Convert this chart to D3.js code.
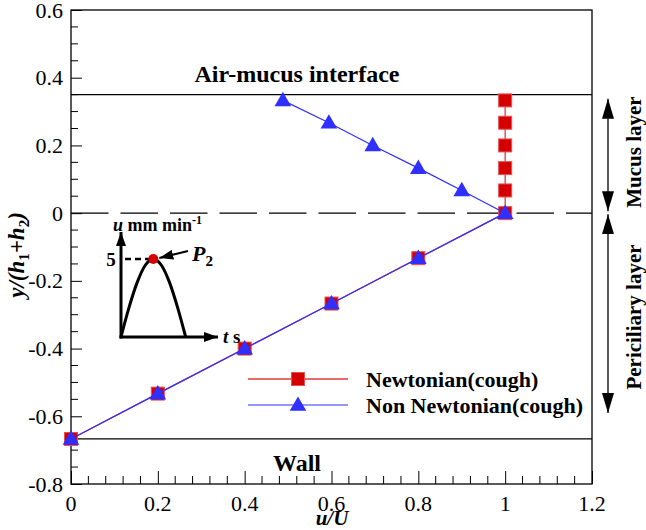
<!DOCTYPE html>
<html><head><meta charset="utf-8">
<script src="https://cdn.jsdelivr.net/npm/d3@7"></script>
</head><body style="margin:0"><svg id="c" width="646" height="530"></svg>
<script>
// ---- data ----
const xTicks = [0, 0.2, 0.4, 0.6, 0.8, 1, 1.2];
const xTickLabels = ["0", "0.2", "0.4", "0.6", "0.8", "1", "1.2"];
const yTicks = [0.6, 0.4, 0.2, 0, -0.2, -0.4, -0.6, -0.8];
const yTickLabels = ["0.6", "0.4", "0.2", "0", "-0.2", "-0.4", "-0.6", "-0.8"];
const newtonianX = [0, 0.2, 0.4, 0.6, 0.8, 1, 1, 1, 1, 1, 1];
const newtonianY = [-0.667, -0.533, -0.4, -0.267, -0.133, 0, 0.067, 0.133, 0.2, 0.267, 0.333];
const nonNewtonianX = [0, 0.2, 0.4, 0.6, 0.8, 1, 0.9, 0.8, 0.695, 0.594, 0.488];
const nonNewtonianY = [-0.667, -0.533, -0.4, -0.267, -0.133, 0, 0.067, 0.133, 0.2, 0.267, 0.333];
const interfaceY = 0.35, wallY = -0.667, midY = 0;
const seriesNames = ["Newtonian(cough)", "Non Newtonian(cough)"];
// inset schematic (t normalised, u in mm/min)
const insetT = [0, 0.083, 0.167, 0.25, 0.333, 0.417, 0.5, 0.583, 0.667];
const insetU = [0, 1.9, 3.5, 4.6, 5, 4.6, 3.5, 1.9, 0];

// ---- layout ----
const FONT = "Liberation Serif";
const svg = d3.select("#c");
const L = 71, R = 592, T = 10, B = 484;
const x = d3.scaleLinear().domain([0, 1.2]).range([L, R]);
const y = d3.scaleLinear().domain([-0.8, 0.6]).range([B, T]);
const red = "#d40000", redLine = "#e03a3a", blue = "#2f2fff";

function label(px, py, txt, size, opts = {}) {
  const t = svg.append("text").attr("x", px).attr("y", py).attr("font-family", FONT)
    .attr("font-size", size).attr("font-weight", opts.weight || "bold").attr("fill", "#000");
  if (opts.anchor) t.attr("text-anchor", opts.anchor);
  if (opts.italic) t.attr("font-style", "italic");
  if (opts.transform) t.attr("transform", opts.transform);
  if (txt) t.text(txt);
  return t;
}

const defs = svg.append("defs");
defs.append("marker").attr("id","ah").attr("viewBox","0 0 20 12").attr("refX",20).attr("refY",6)
  .attr("markerWidth",20).attr("markerHeight",12).attr("markerUnits","userSpaceOnUse").attr("orient","auto-start-reverse")
  .append("path").attr("d","M0,0L20,6L0,12Z").attr("fill","#000");
defs.append("marker").attr("id","ah2").attr("viewBox","0 0 14 10").attr("refX",14).attr("refY",5)
  .attr("markerWidth",14).attr("markerHeight",10).attr("markerUnits","userSpaceOnUse").attr("orient","auto-start-reverse")
  .append("path").attr("d","M0,0L14,5L0,10Z").attr("fill","#000");

// frame
svg.append("rect").attr("x",L).attr("y",T).attr("width",R-L).attr("height",B-T)
  .attr("fill","none").attr("stroke","#000").attr("stroke-width",1.3);

// axes: ticks from d3 axes (inward), labels as serif text
const xAxis = d3.axisBottom(x).tickValues(xTicks).tickFormat("").tickSize(-13);
svg.append("g").attr("transform",`translate(0,${B})`).call(xAxis).call(g=>g.select(".domain").remove());
xTicks.forEach((v,i)=>label(x(v), 511, xTickLabels[i], 22, {anchor:"middle", weight:"normal"}));
const xMinor = d3.range(0, 1.2001, 0.04).filter(v => Math.abs(v*5 - Math.round(v*5)) > 1e-6);
svg.append("g").selectAll("line").data(xMinor).join("line")
  .attr("x1",d=>x(d)).attr("x2",d=>x(d)).attr("y1",B).attr("y2",B-8).attr("stroke","#000");
const yAxis = d3.axisLeft(y).tickValues(yTicks).tickFormat("").tickSize(-11);
svg.append("g").attr("transform",`translate(${L},0)`).call(yAxis).call(g=>g.select(".domain").remove());
yTicks.forEach((v,i)=>label(63, y(v)+7.5, yTickLabels[i], 22, {anchor:"end", weight:"normal"}));
const yMinor = d3.range(-0.8, 0.6001, 0.05).filter(v => Math.abs(v*5 - Math.round(v*5)) > 1e-6);
svg.append("g").selectAll("line").data(yMinor).join("line")
  .attr("x1",L).attr("x2",L+7).attr("y1",d=>y(d)).attr("y2",d=>y(d)).attr("stroke","#000");
svg.selectAll(".tick line").attr("stroke","#000");

// reference lines
svg.append("line").attr("x1",L).attr("x2",R).attr("y1",y(interfaceY)).attr("y2",y(interfaceY)).attr("stroke","#000").attr("stroke-width",1.3);
svg.append("line").attr("x1",L).attr("x2",R).attr("y1",y(wallY)).attr("y2",y(wallY)).attr("stroke","#000").attr("stroke-width",1.3);
svg.append("line").attr("x1",L).attr("x2",R).attr("y1",y(midY)).attr("y2",y(midY)).attr("stroke","#000").attr("stroke-width",1.3)
  .attr("stroke-dasharray","37.5,12");

// series
const nData = newtonianX.map((v,i)=>[v,newtonianY[i]]);
const nnData = nonNewtonianX.map((v,i)=>[v,nonNewtonianY[i]]);
const line = d3.line().x(d=>x(d[0])).y(d=>y(d[1]));
svg.append("path").datum(nData).attr("d",line).attr("fill","none").attr("stroke",redLine).attr("stroke-width",1.3);
svg.append("g").selectAll("rect").data(nData).join("rect")
  .attr("x",d=>x(d[0])-6.5).attr("y",d=>y(d[1])-6.5).attr("width",13).attr("height",13)
  .attr("fill",red).attr("stroke","#e85050").attr("stroke-width",1);
svg.append("path").datum(nnData).attr("d",line).attr("fill","none").attr("stroke",blue).attr("stroke-width",1.2);
const tri = d3.symbol().type(d3.symbolTriangle).size(120);
svg.append("g").selectAll("path").data(nnData).join("path")
  .attr("transform",d=>`translate(${x(d[0])},${y(d[1])+1})`).attr("d",tri).attr("fill",blue);

// legend
const legY = [379, 405];
svg.append("line").attr("x1",248).attr("x2",348).attr("y1",legY[0]).attr("y2",legY[0]).attr("stroke",redLine).attr("stroke-width",1.3);
svg.append("rect").attr("x",298-6.5).attr("y",legY[0]-6.5).attr("width",13).attr("height",13).attr("fill",red).attr("stroke","#e85050");
svg.append("line").attr("x1",248).attr("x2",348).attr("y1",legY[1]).attr("y2",legY[1]).attr("stroke",blue).attr("stroke-width",1.2);
svg.append("path").attr("transform",`translate(298,${legY[1]+1})`).attr("d",tri).attr("fill",blue);
seriesNames.forEach((s,i)=>label(366, legY[i]+8, s, 22));

// annotations
label(297, y(interfaceY)-13, "Air-mucus interface", 24, {anchor:"middle"});
label(297, y(wallY)+32, "Wall", 24, {anchor:"middle"});

// right double arrows
svg.append("line").attr("x1",608).attr("x2",608).attr("y1",y(interfaceY)+4).attr("y2",y(midY)-2).attr("stroke","#000").attr("stroke-width",1.3)
  .attr("marker-start","url(#ah)").attr("marker-end","url(#ah)");
svg.append("line").attr("x1",608).attr("x2",608).attr("y1",y(midY)+1).attr("y2",413).attr("stroke","#000").attr("stroke-width",1.3)
  .attr("marker-start","url(#ah)").attr("marker-end","url(#ah)");
label(0, 0, "Mucus layer", 21, {anchor:"middle", transform:"translate(641,152) rotate(-90)"});
label(0, 0, "Periciliary layer", 21, {anchor:"middle", transform:"translate(641,317) rotate(-90)"});

// axis titles
label(332, 525, "u/U", 21, {anchor:"middle", italic:true});
const yt = label(0, 0, null, 23, {anchor:"middle", italic:true, transform:"translate(24,255) rotate(-90)"});
yt.append("tspan").text("y/(h");
yt.append("tspan").attr("font-size",15).attr("font-style","normal").attr("dy",5).text("1");
yt.append("tspan").attr("dy",-5).text("+h");
yt.append("tspan").attr("font-size",15).attr("font-style","normal").attr("dy",5).text("2");
yt.append("tspan").attr("dy",-5).text(")");

// ---- inset ----
const xi = d3.scaleLinear().domain([0, 1]).range([121, 218]);
const yi = d3.scaleLinear().domain([0, 5]).range([337, 259]);
svg.append("line").attr("x1",xi(0)).attr("x2",xi(0)).attr("y1",yi(0)+1.5).attr("y2",232).attr("stroke","#000").attr("stroke-width",3).attr("marker-end","url(#ah2)");
svg.append("line").attr("x1",xi(0)-1.5).attr("x2",xi(1)).attr("y1",yi(0)).attr("y2",yi(0)).attr("stroke","#000").attr("stroke-width",3).attr("marker-end","url(#ah2)");
svg.append("path").datum(insetT.map((t,i)=>[t,insetU[i]]))
  .attr("d",d3.line().x(d=>xi(d[0])).y(d=>yi(d[1])).curve(d3.curveMonotoneX))
  .attr("fill","none").attr("stroke","#000").attr("stroke-width",3);
svg.append("line").attr("x1",xi(0)+4).attr("x2",xi(0.333)).attr("y1",yi(5)).attr("y2",yi(5)).attr("stroke","#000").attr("stroke-width",2.5).attr("stroke-dasharray","6,4");
svg.append("circle").attr("cx",xi(0.333)).attr("cy",yi(5)).attr("r",5).attr("fill","#d40000");
label(111, yi(5)+7, "5", 19, {anchor:"middle"});
const ul = label(113, 231, null, 18);
ul.append("tspan").attr("font-style","italic").text("u");
ul.append("tspan").text(" mm min");
ul.append("tspan").attr("font-size",12).attr("dy",-7).text("-1");
svg.append("line").attr("x1",188).attr("x2",xi(0.333)+6).attr("y1",251).attr("y2",yi(5)-1).attr("stroke","#000").attr("stroke-width",2).attr("marker-end","url(#ah2)");
const pl = label(192, 261, null, 22);
pl.append("tspan").attr("font-style","italic").text("P");
pl.append("tspan").attr("font-size",15).attr("dy",5).text("2");
const tl = label(223, yi(0)+6, null, 19);
tl.append("tspan").attr("font-style","italic").text("t");
tl.append("tspan").text(" s");
</script></body></html>
